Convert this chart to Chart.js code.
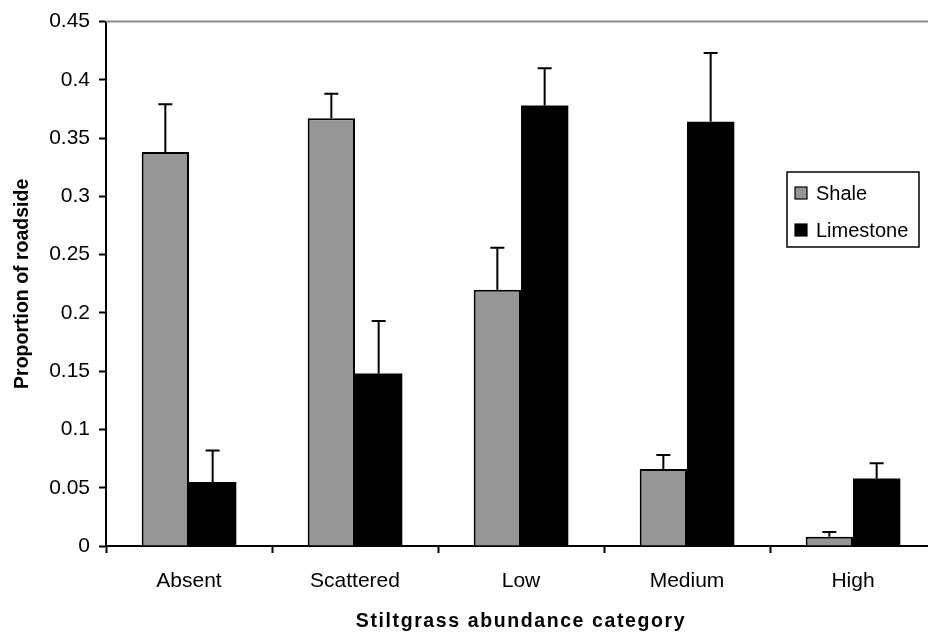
<!DOCTYPE html>
<html>
<head>
<meta charset="utf-8">
<script src="https://cdn.jsdelivr.net/npm/chart.js@4/dist/chart.umd.min.js"></script>
<style>
  html, body { margin: 0; padding: 0; background: #fff; overflow: hidden; }
  #wrap { width: 936px; height: 632px; }
</style>
</head>
<body>
<div id="wrap"><canvas id="chart"></canvas></div>
<script>
// Stiltgrass abundance on roadsides by underlying geology
const categories = ['Absent', 'Scattered', 'Low', 'Medium', 'High'];
const shaleMean = [0.338, 0.367, 0.220, 0.066, 0.008];
const shaleErr  = [0.041, 0.021, 0.036, 0.012, 0.004];
const limestoneMean = [0.055, 0.148, 0.378, 0.364, 0.058];
const limestoneErr  = [0.027, 0.045, 0.032, 0.059, 0.013];
const yTicks = [0, 0.05, 0.1, 0.15, 0.2, 0.25, 0.3, 0.35, 0.4, 0.45];
const xTitle = 'Stiltgrass abundance category';
const yTitle = 'Proportion of roadside';

const FONT = '"Liberation Sans", Arial, Helvetica, sans-serif';

// upward-only error bars with a short cap
const errorBars = {
  id: 'errorBars',
  afterDatasetsDraw(chart) {
    const { ctx } = chart;
    const y = chart.scales.y;
    chart.data.datasets.forEach((ds, di) => {
      const meta = chart.getDatasetMeta(di);
      meta.data.forEach((bar, i) => {
        const top = y.getPixelForValue(ds.data[i] + ds.errors[i]);
        ctx.save();
        ctx.strokeStyle = '#000';
        ctx.lineWidth = 2;
        ctx.beginPath();
        ctx.moveTo(bar.x, bar.y);
        ctx.lineTo(bar.x, top);
        ctx.moveTo(bar.x - 7, top);
        ctx.lineTo(bar.x + 7, top);
        ctx.stroke();
        ctx.restore();
      });
    });
  }
};

// grey frame line along the top of the plot, boxed legend, x-axis title
const decorations = {
  id: 'decorations',
  beforeDatasetsDraw(chart) {
    const { ctx, chartArea: a } = chart;
    ctx.save();
    ctx.strokeStyle = '#8c8c8c';
    ctx.lineWidth = 2;
    ctx.beginPath();
    ctx.moveTo(a.left, a.top);
    ctx.lineTo(a.right + 10, a.top);
    ctx.stroke();
    ctx.restore();
  },
  afterDraw(chart) {
    const { ctx, chartArea: a } = chart;
    ctx.save();
    // legend
    const bx = 787, by = 172, bw = 132, bh = 75;
    ctx.fillStyle = '#fff';
    ctx.fillRect(bx, by, bw, bh);
    ctx.strokeStyle = '#000';
    ctx.lineWidth = 1.5;
    ctx.strokeRect(bx, by, bw, bh);
    const rows = [193, 230];
    chart.data.datasets.forEach((ds, i) => {
      const cy = rows[i];
      ctx.fillStyle = ds.backgroundColor;
      ctx.fillRect(795, cy - 6, 12, 12);
      ctx.strokeStyle = '#000';
      ctx.lineWidth = 1.2;
      ctx.strokeRect(795, cy - 6, 12, 12);
      ctx.fillStyle = '#000';
      ctx.font = '20px ' + FONT;
      ctx.textBaseline = 'middle';
      ctx.textAlign = 'left';
      ctx.fillText(ds.label, 816, cy + 1);
    });
    // x-axis title
    ctx.fillStyle = '#000';
    ctx.font = 'bold 19.5px ' + FONT;
    if ('letterSpacing' in ctx) ctx.letterSpacing = '1.6px';
    ctx.textAlign = 'center';
    ctx.textBaseline = 'alphabetic';
    ctx.fillText(xTitle, (a.left + a.right) / 2, 627);
    ctx.restore();
  }
};

new Chart(document.getElementById('chart'), {
  type: 'bar',
  data: {
    labels: categories,
    datasets: [
      {
        label: 'Shale',
        data: shaleMean,
        errors: shaleErr,
        backgroundColor: '#969696',
        borderColor: '#000',
        borderWidth: 2,
        categoryPercentage: 0.57,
        barPercentage: 1.0
      },
      {
        label: 'Limestone',
        data: limestoneMean,
        errors: limestoneErr,
        backgroundColor: '#000000',
        borderColor: '#000',
        borderWidth: 0,
        categoryPercentage: 0.57,
        barPercentage: 1.0
      }
    ]
  },
  options: {
    responsive: true,
    maintainAspectRatio: false,
    animation: false,
    layout: { padding: { top: 19, right: 0, left: 0, bottom: 0 } },
    plugins: {
      legend: { display: false },
      tooltip: { enabled: false }
    },
    scales: {
      x: {
        offset: true,
        grid: { display: true, offset: true, drawOnChartArea: false, drawTicks: true, tickLength: 7, tickColor: '#000', tickWidth: 2 },
        border: { display: true, color: '#000', width: 2 },
        ticks: { color: '#000', font: { family: FONT, size: 21 }, padding: 16, maxRotation: 0 },
        afterFit(scale) { scale.height = 86; }
      },
      y: {
        min: 0,
        max: 0.45,
        afterBuildTicks(scale) { scale.ticks = yTicks.map(v => ({ value: v })); },
        grid: { display: true, drawOnChartArea: false, drawTicks: true, tickLength: 7, tickColor: '#000', tickWidth: 2 },
        border: { display: true, color: '#000', width: 2 },
        ticks: {
          color: '#000',
          font: { family: FONT, size: 21 },
          padding: 9,
          callback: v => String(+v.toFixed(2))
        },
        title: {
          display: true,
          text: yTitle,
          color: '#000',
          font: { family: FONT, size: 19.5, weight: 'bold' },
          padding: { top: 11, bottom: 0 }
        },
        afterFit(scale) { scale.width = 106; }
      }
    }
  },
  plugins: [errorBars, decorations]
});
</script>
</body>
</html>
